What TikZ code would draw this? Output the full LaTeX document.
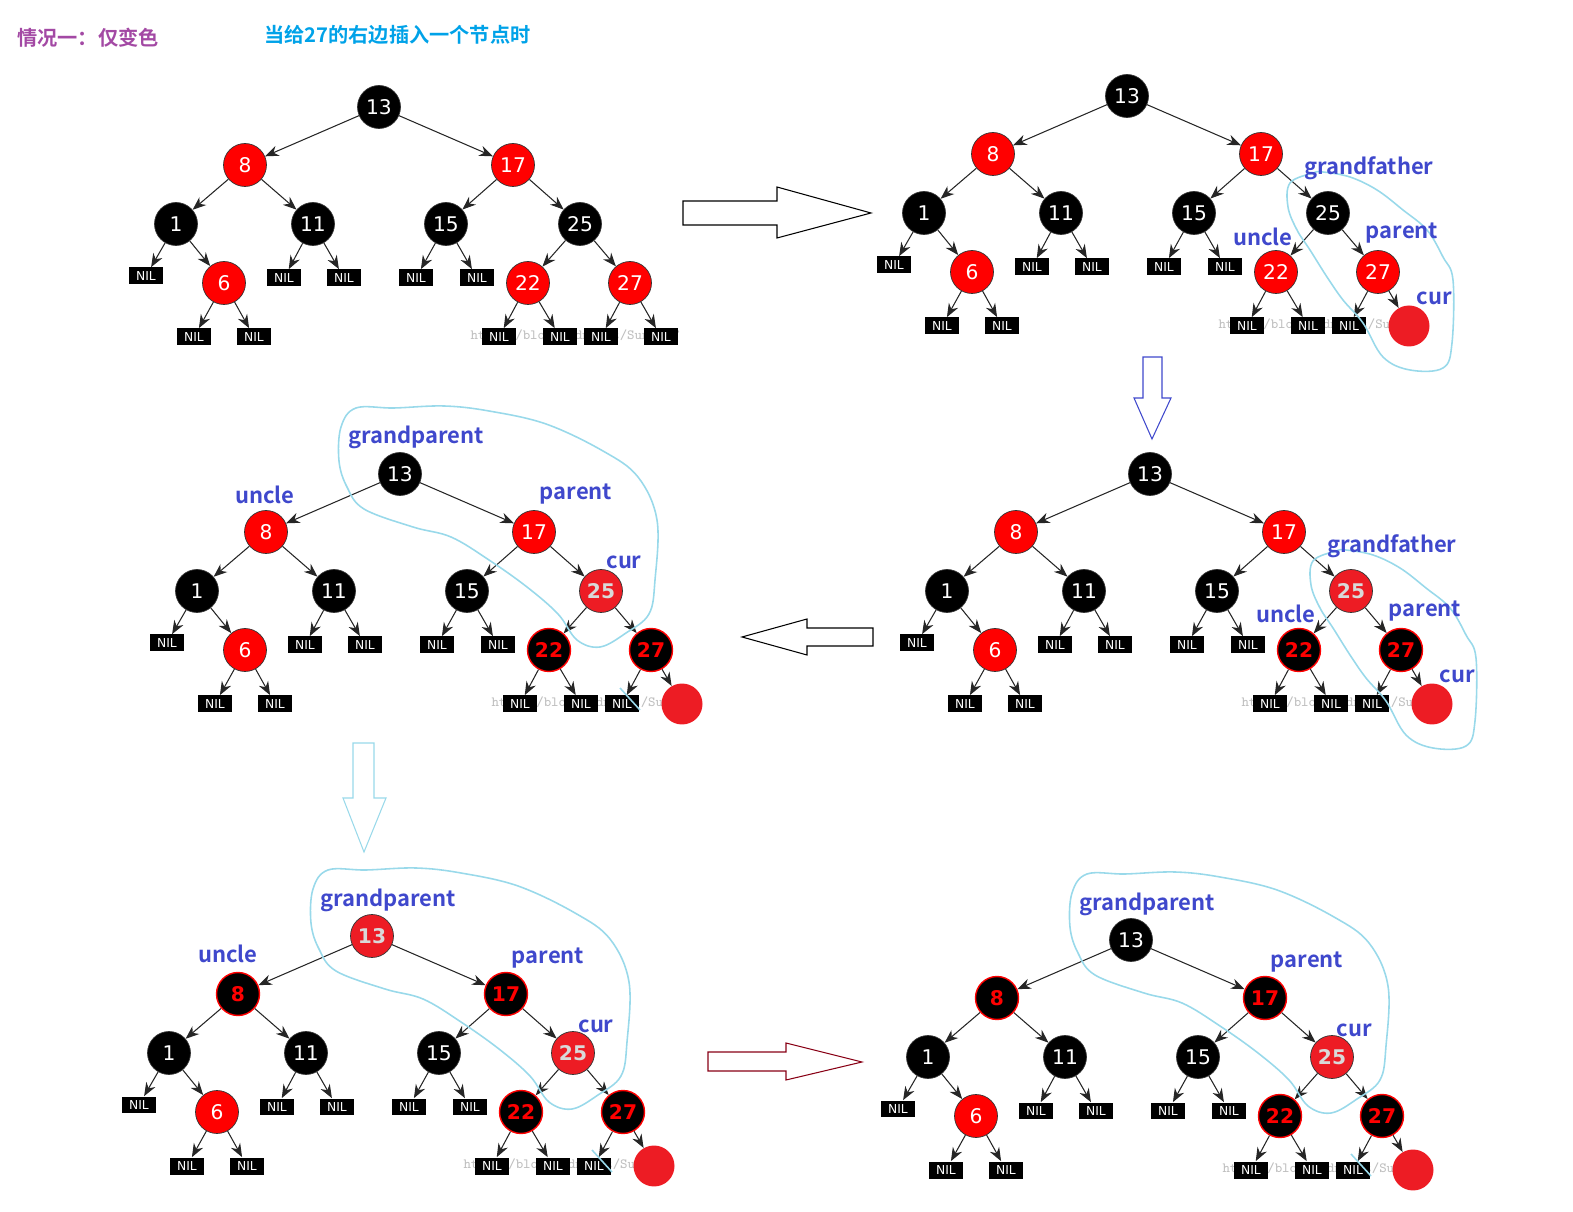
\documentclass[tikz,border=0pt]{standalone}
\usepackage{fontspec}
\usepackage{tikz}
\setsansfont{DejaVu Sans}
\newfontfamily\cjk{Noto Sans CJK SC}[BoldFont={Noto Sans CJK SC Bold}]
\definecolor{red600}{HTML}{FF0000}
\definecolor{paintred}{HTML}{ED1C24}
\definecolor{blue700}{HTML}{3F48CC}
\definecolor{cyan200}{HTML}{99D9EA}
\definecolor{purple500}{HTML}{A349A4}
\definecolor{cyan500}{HTML}{00A2E8}
\definecolor{wine}{HTML}{880015}
\usetikzlibrary{arrows.meta}
\tikzstyle{vblack}=[circle, fill=black, draw=black!80, text=white, minimum size=0.86cm, inner sep=0pt, font=\sffamily\fontsize{11.5}{13}\selectfont]
\tikzstyle{vred}=[vblack, fill=red600]
\tikzstyle{vflip}=[vblack, draw=red600, line width=0.8pt, text=red600, font=\sffamily\bfseries\fontsize{11.5}{13}\selectfont]
\tikzstyle{vcur}=[vblack, fill=paintred, text=white!85!black, font=\sffamily\bfseries\fontsize{11.5}{13}\selectfont]
\tikzstyle{newnode}=[circle, fill=paintred, minimum size=0.82cm, inner sep=0pt]
\tikzstyle{nil}=[rectangle, fill=black, text=white, minimum width=0.68cm, minimum height=0.34cm, inner sep=0pt, font=\sffamily\fontsize{7}{8}\selectfont]
\tikzstyle{link}=[->, draw=black!85, line width=0.6pt]
\tikzstyle{tag}=[text=blue700, inner sep=0pt, font=\cjk\bfseries\fontsize{12.5}{14}\selectfont]
\tikzstyle{ring}=[draw=cyan200, line width=0.9pt]
\tikzstyle{wmark}=[text=black!25, inner sep=0pt, font=\ttfamily\fontsize{8}{9}\selectfont]
\tikzstyle{bigarrow}=[fill=white, line width=0.6pt]

% one red-black tree, root 13 at the scope origin
% #1 prefix, #2 root, #3 8 and 17, #4 25, #5 22 and 27, #6/#7 right child of 27
\newcommand{\rbtree}[7]{%
	\node[wmark] (#1w) at (196,229) {http://blog.csdn.net/Sun\_TWT};
	\node[#2] (#113) at (0,0) {13};
	\node[#3] (#18) at (-134,58) {8};
	\node[#3] (#117) at (134,58) {17};
	\node[vblack] (#11) at (-203,117) {1};
	\node[vblack] (#111) at (-66,117) {11};
	\node[vblack] (#115) at (67,117) {15};
	\node[#4] (#125) at (201,117) {25};
	\node[nil] (#1n1) at (-233,169) {NIL};
	\node[vred] (#16) at (-155,176) {6};
	\node[nil] (#1n11a) at (-95,171) {NIL};
	\node[nil] (#1n11b) at (-35,171) {NIL};
	\node[nil] (#1n15a) at (37,171) {NIL};
	\node[nil] (#1n15b) at (98,171) {NIL};
	\node[#5] (#122) at (149,176) {22};
	\node[#5] (#127) at (251,176) {27};
	\node[nil] (#1n6a) at (-185,230) {NIL};
	\node[nil] (#1n6b) at (-125,230) {NIL};
	\node[nil] (#1n22a) at (120,230) {NIL};
	\node[nil] (#1n22b) at (181,230) {NIL};
	\node[nil] (#1n27a) at (222,230) {NIL};
	\node[#6] (#1n27b) at (282,230) {#7};
	\foreach \u/\v in {13/8,13/17,8/1,8/11,17/15,17/25,1/n1,1/6,11/n11a,11/n11b,15/n15a,15/n15b,25/22,25/27,6/n6a,6/n6b,22/n22a,22/n22b,27/n27a,27/n27b}
		\draw[link] (#1\u) -- (#1\v);
}
\newcommand{\ringsmall}{%
	\draw[ring] plot[smooth cycle, tension=0.6] coordinates {(186,77) (163,87) (161,111) (170,134) (183,154) (200,181) (216,204) (236,227) (256,261) (283,274) (316,272) (325,247) (326,184) (316,161) (300,134) (276,114) (250,94) (223,81) (196,76)};
}
\newcommand{\ringbig}{%
	\draw[ring] plot[smooth cycle, tension=0.6] coordinates {(-44,-66) (-59,-47) (-61,-13) (-53,13) (-36,35) (13,53) (51,63) (89,86) (127,113) (158,140) (177,166) (200,173) (226,159) (249,140) (255,106) (257,46) (238,3) (203,-23) (146,-50) (89,-63) (44,-68) (-6,-66)};
	\draw[ring] (220,214) -- (240,236);
}

\begin{document}
\begin{tikzpicture}[x=0.02cm, y=-0.02cm, >={Stealth[length=0.27cm, width=0.21cm]}]
	\useasboundingbox (0,0) rectangle (1573,1212);
	\node[anchor=west, text=purple500, font=\cjk\bfseries\fontsize{11.5}{13}\selectfont] (title) at (11,38) {情况一：仅变色};
	\node[anchor=west, text=cyan500, font=\cjk\bfseries\fontsize{11.5}{13}\selectfont] (subtitle) at (258,35) {当给27的右边插入一个节点时};

	% top left
	\begin{scope}[shift={(379,107)}]
		\rbtree{a}{vblack}{vred}{vblack}{vred}{nil}{NIL}
	\end{scope}

	% top right
	\begin{scope}[shift={(1127,96)}]
		\rbtree{b}{vblack}{vred}{vblack}{vred}{newnode}{}
		\ringsmall
		\node[tag] (bgf) at (242,72) {grandfather};
		\node[tag] (bpa) at (275,137) {parent};
		\node[tag] (bun) at (136,141) {uncle};
		\node[tag] (bcur) at (307,202) {cur};
	\end{scope}

	% middle right
	\begin{scope}[shift={(1150,474)}]
		\rbtree{c}{vblack}{vred}{vcur}{vflip}{newnode}{}
		\ringsmall
		\node[tag] (cgf) at (242,72) {grandfather};
		\node[tag] (cpa) at (275,137) {parent};
		\node[tag] (cun) at (136,140) {uncle};
		\node[tag] (ccur) at (307,202) {cur};
	\end{scope}

	% middle left
	\begin{scope}[shift={(400,474)}]
		\rbtree{d}{vblack}{vred}{vcur}{vflip}{newnode}{}
		\ringbig
		\node[tag] (dgp) at (16,-37) {grandparent};
		\node[tag] (dun) at (-135,21) {uncle};
		\node[tag] (dpa) at (176,20) {parent};
		\node[tag] (dcur) at (224,88) {cur};
	\end{scope}

	% bottom left
	\begin{scope}[shift={(372,936)}]
		\rbtree{e}{vcur}{vflip}{vcur}{vflip}{newnode}{}
		\ringbig
		\node[tag] (egp) at (16,-36) {grandparent};
		\node[tag] (eun) at (-144,18) {uncle};
		\node[tag] (epa) at (176,22) {parent};
		\node[tag] (ecur) at (224,90) {cur};
	\end{scope}

	% bottom right
	\begin{scope}[shift={(1131,940)}]
		\rbtree{f}{vblack}{vflip}{vcur}{vflip}{newnode}{}
		\ringbig
		\node[tag] (fgp) at (16,-36) {grandparent};
		\node[tag] (fpa) at (176,22) {parent};
		\node[tag] (fcur) at (223,90) {cur};
	\end{scope}

	% step arrows
	\draw[bigarrow, draw=black] (683,201) -- (777,201) -- (777,187) -- (871,213) -- (777,238) -- (777,225) -- (683,225) -- cycle;
	\draw[bigarrow, draw=blue700] (1143,357) -- (1162,357) -- (1162,398) -- (1171,398) -- (1152,439) -- (1134,398) -- (1143,398) -- cycle;
	\draw[bigarrow, draw=black] (873,628) -- (807,628) -- (807,619) -- (742,637) -- (807,655) -- (807,646) -- (873,646) -- cycle;
	\draw[bigarrow, draw=cyan200] (353,743) -- (374,743) -- (374,798) -- (386,798) -- (364,852) -- (343,798) -- (353,798) -- cycle;
	\draw[bigarrow, draw=wine] (708,1052) -- (786,1052) -- (786,1043) -- (862,1062) -- (786,1080) -- (786,1071) -- (708,1071) -- cycle;
\end{tikzpicture}
\end{document}
